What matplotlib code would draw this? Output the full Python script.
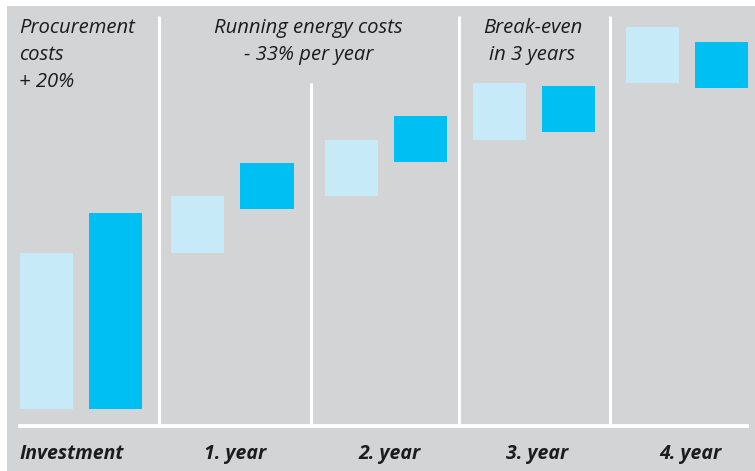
import matplotlib
matplotlib.use('Agg')
import matplotlib.pyplot as plt
import numpy as np

plt.rcParams['font.family'] = ['Open Sans', 'DejaVu Sans']

categories = ['Investment', '1. year', '2. year', '3. year', '4. year']
# cost levels (investment of conventional system = 100)
light_bottom = [0, 100, 136.5, 172.5, 209]
light_top = [100, 136.5, 172.5, 209, 245]
dark_bottom = [0, 128, 158.5, 177.5, 206]
dark_top = [125.5, 157.5, 188, 207, 235.5]

notes = [(-0.41, 'left', ['Procurement', 'costs', '+ 20%']),
         (1.5, 'center', ['Running energy costs', '- 33% per year']),
         (2.98, 'center', ['Break-even', 'in 3 years'])]

GREY = '#d3d4d6'
LIGHT = '#c6eaf8'
DARK = '#00bff3'
TXT = '#1c1c1c'

fig = plt.figure(figsize=(7.55, 4.71), dpi=100, facecolor='white')
ax = fig.add_axes([7 / 755, 0, 748 / 755, 465 / 471])
ax.set_facecolor(GREY)
for s in ax.spines.values():
    s.set_visible(False)
ax.set_xticks([])
ax.set_yticks([])

x = np.array([0, 1, 2.015, 2.99, 4])
off = 0.228
w = 0.35
lb = np.array(light_bottom)
lt = np.array(light_top)
db = np.array(dark_bottom)
dt = np.array(dark_top)
ax.bar(x - off, lt - lb, bottom=lb, width=w, color=LIGHT, linewidth=0)
ax.bar(x + off, dt - db, bottom=db, width=w, color=DARK, linewidth=0)

# separators
sep_x = [0.518, 1.521, 2.495, 3.492]
sep_top = [251.9, 209, 251.9, 251.9]
for sx, top in zip(sep_x, sep_top):
    ax.vlines(sx, -10.9, top, color='white', lw=2.2)
ax.hlines(-10.9, -0.416, 4.41, color='white', lw=2.8)

# category labels
for i, c in enumerate(categories):
    if i == 0:
        ax.text(-0.403, -32, c, ha='left', va='baseline', fontsize=14,
                style='italic', weight='bold', color=TXT)
    else:
        ax.text(x[i] + 0.02, -32, c, ha='center', va='baseline', fontsize=14,
                style='italic', weight='bold', color=TXT)

# notes on top
for xpos, ha, lines in notes:
    for j, line in enumerate(lines):
        ax.text(xpos, 241 - j * 17.3, line, ha=ha, va='baseline', fontsize=14.6,
                style='italic', color=TXT)

ax.set_xlim(-0.488, 4.449)
ax.set_ylim(-39.74, 258.33)

fig.savefig('out.png', dpi=100, facecolor='white')
